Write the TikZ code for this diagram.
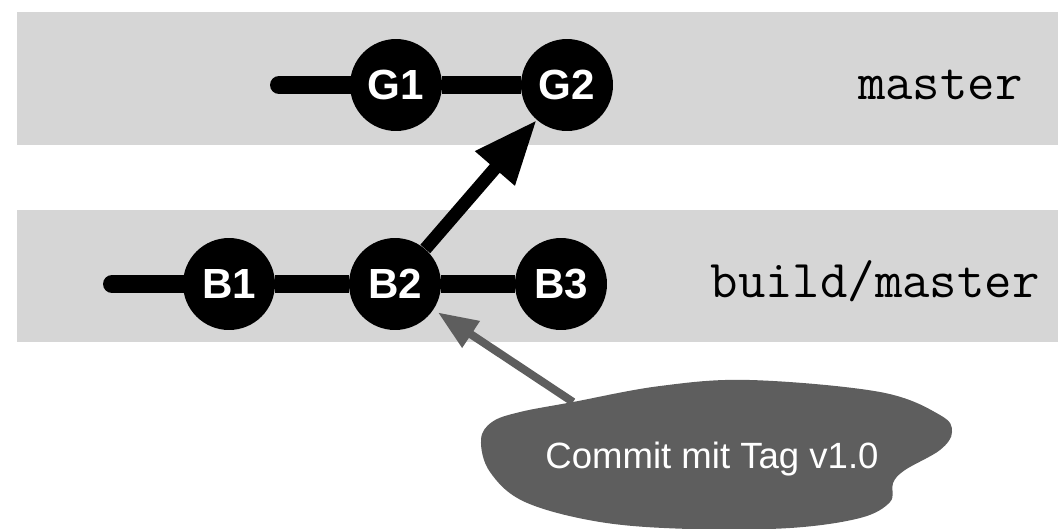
\documentclass[tikz,border=0pt]{standalone}
\usepackage{fontspec}
\setmainfont{Liberation Sans}
\usepackage{xcolor}
\usetikzlibrary{arrows.meta}
\definecolor{band-gray}{HTML}{D6D6D6}
\definecolor{tag-gray}{HTML}{5E5E5E}

\begin{document}
\begin{tikzpicture}[x=0.02cm, y=-0.02cm,
    commit/.style={circle, fill=black, text=white, minimum size=1.84cm, inner sep=0pt,
      font=\fontsize{24}{28}\selectfont\bfseries},
    branch/.style={font=\ttfamily\fontsize{30.3}{33}\selectfont, inner sep=0pt},
    history/.style={line width=0.36cm, line cap=round}]
    \useasboundingbox (0,0) rectangle (1058,528);
    \fill[band-gray] (17,12) rectangle (1058,145);
    \fill[band-gray] (17,210) rectangle (1058,342);
    \node[commit] (G1) at (396,85) {G1};
    \node[commit] (G2) at (567,85) {G2};
    \node[commit] (B1) at (229,284) {B1};
    \node[commit] (B2) at (395,284) {B2};
    \node[commit] (B3) at (561,284) {B3};
    \coordinate (gstart) at (279,85);
    \coordinate (bstart) at (112,284);
    \draw[history] (gstart) -- (G1);
    \draw[line width=0.36cm] (G1) -- (G2);
    \draw[history] (bstart) -- (B1);
    \draw[line width=0.36cm] (B1) -- (B2) (B2) -- (B3);
    \draw[line width=0.26cm, -{Triangle[length=1.28cm, width=0.98cm]}] (B2) -- (G2);
    \node[branch, anchor=base east] (lmaster) at (1023,99) {master};
    \node[branch, anchor=base east] (lbuild) at (1040,297) {build/master};
    % tag cloud
    \fill[tag-gray] plot[smooth cycle, tension=0.6] coordinates {
      (573,402) (660,386) (750,380) (880,392) (940,415) (952,432) (940,450)
      (905,470) (893,483) (890,502) (860,518) (790,528) (690,529) (600,522)
      (525,502) (490,472) (481,440) (492,422) (520,412)};
    \coordinate (cloudtip) at (573,402);
    \node[text=white, font=\fontsize{20.8}{25}\selectfont] (tag) at (712,459) {Commit mit Tag v1.0};
    \draw[tag-gray, line width=0.16cm, shorten >=0.1cm,
      -{Triangle[length=0.8cm, width=0.6cm]}] (cloudtip) -- (B2);
  \end{tikzpicture}
\end{document}
